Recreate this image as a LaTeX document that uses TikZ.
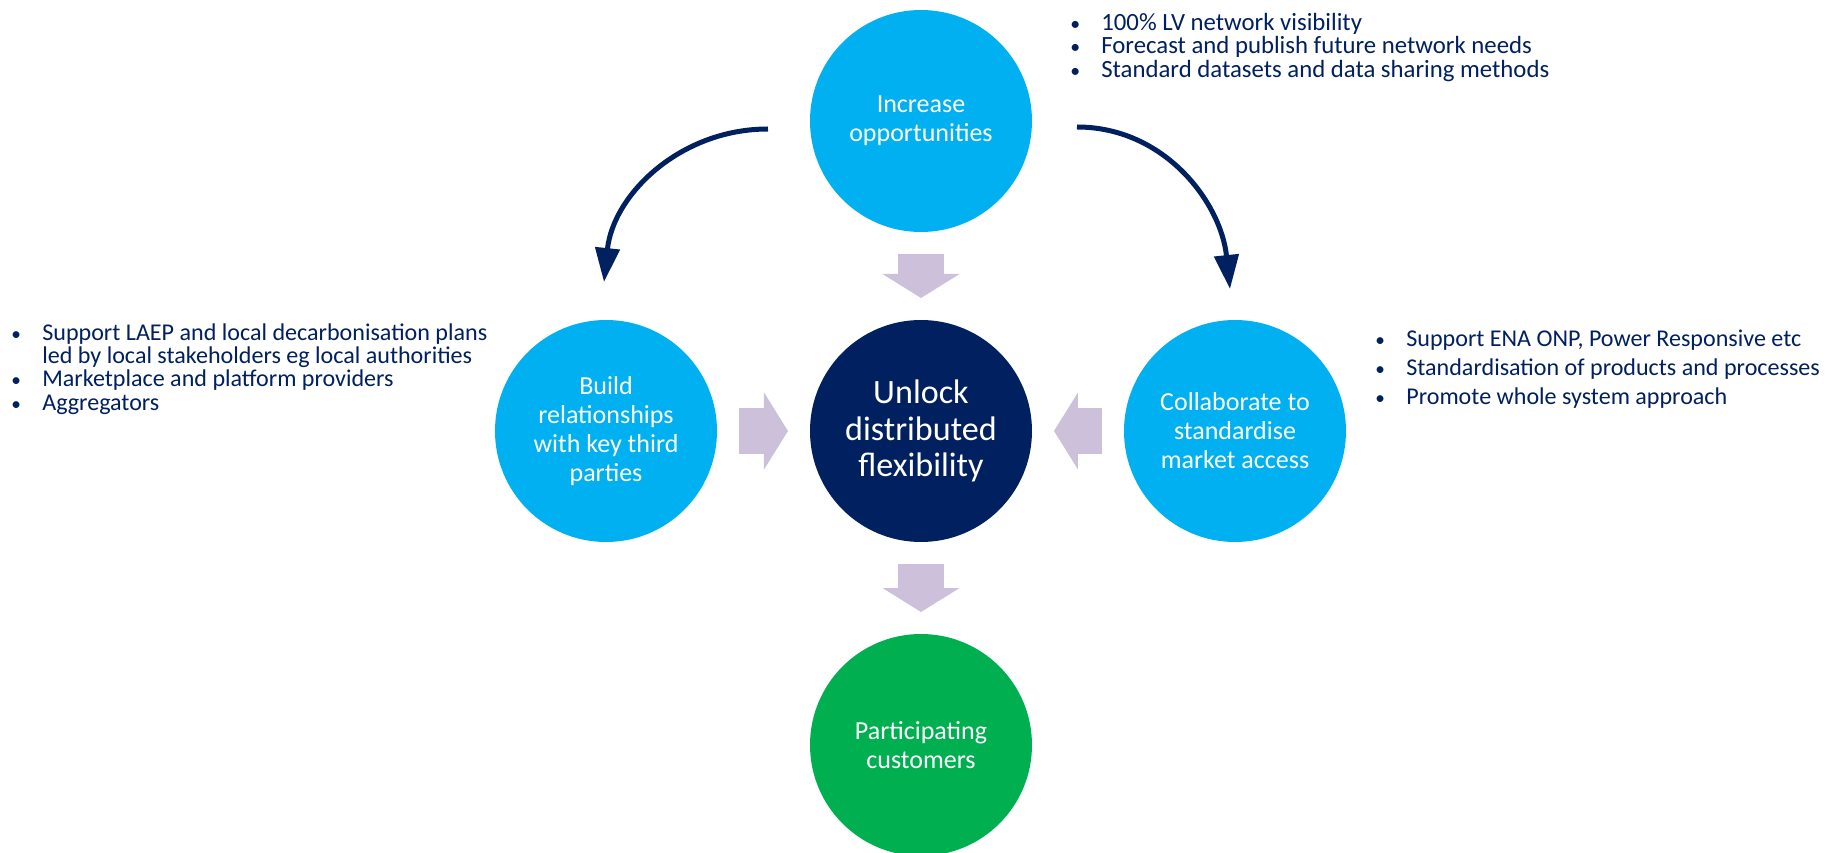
\documentclass[tikz,border=0pt]{standalone}
\usepackage{fontspec}
\setmainfont{Carlito}
\usetikzlibrary{arrows.meta}
\definecolor{flexblue}{HTML}{00B0F0}
\definecolor{flexnavy}{HTML}{002060}
\definecolor{flexgreen}{HTML}{00B050}
\definecolor{flexlilac}{HTML}{CCC0DA}
\newcommand{\itm}{\makebox[0.58cm][l]{\hspace*{-0.04cm}\scalebox{0.8}{\textbullet}}}
\newcommand{\cont}{\hspace*{0.58cm}}

\begin{document}
\begin{tikzpicture}[
  >=Latex,
  circ/.style={circle, minimum size=4.44cm, inner sep=0pt, outer sep=0pt,
    align=center, text=white, font=\fontsize{14.8}{16.5}\selectfont},
  push/.style={line width=0.92cm, flexlilac,
    -{Triangle[length=0.48cm,width=1.52cm]}, shorten <=0.44cm, shorten >=0.44cm},
  swing/.style={line width=0.1cm, flexnavy,
    -{Triangle[length=0.68cm,width=0.48cm]}},
  notes/.style={anchor=north west, align=left, inner sep=0pt, text=flexnavy,
    font=\fontsize{13.7}{13.3}\selectfont}
]
\path[use as bounding box, fill=white] (-18.42,-8.44) rectangle (18.32,8.62);
% the four steps around the hub
\node[circ,fill=flexnavy,font=\fontsize{19.4}{20.9}\selectfont] (hub) at (0,0)
  {Unlock\\distributed\\flexibility};
\node[circ,fill=flexblue] (opps) at (0,6.2) {Increase\\opportunities};
\node[circ,fill=flexblue] (build) at (-6.3,0)
  {Build\\relationships\\with key third\\parties};
\node[circ,fill=flexblue] (collab) at (6.28,0)
  {Collaborate to\\standardise\\market access};
\node[circ,fill=flexgreen] (customers) at (0,-6.28) {Participating\\customers};
\draw[push] (opps) -- (hub);
\draw[push] (build) -- (hub);
\draw[push] (collab) -- (hub);
\draw[push] (hub) -- (customers);
% bullet notes
\node[notes,font=\fontsize{14.1}{13.3}\selectfont] (oppsnotes) at (3.02,8.36)
  {\itm 100\% LV network visibility\\
   \itm Forecast and publish future network needs\\
   \itm Standard datasets and data sharing methods};
\node[notes] (buildnotes) at (-18.16,2.16)
  {\itm Support LAEP and local decarbonisation plans\\
   \cont led by local stakeholders eg local authorities\\
   \itm Marketplace and platform providers\\
   \itm Aggregators};
\node[notes,font=\fontsize{13.7}{16.5}\selectfont] (collabnotes) at (9.12,2.03)
  {\itm Support ENA ONP, Power Responsive etc\\
   \itm Standardisation of products and processes\\
   \itm Promote whole system approach};
% curved arrows out of the top step
\coordinate (lfrom) at (-3.06,6.04);
\coordinate (lto) at (-6.34,2.98);
\coordinate (rfrom) at (3.12,6.08);
\coordinate (rto) at (6.18,2.84);
\draw[swing] (lfrom) to[out=180,in=84] (lto);
\draw[swing] (rfrom) to[out=0,in=96] (rto);
\end{tikzpicture}
\end{document}
